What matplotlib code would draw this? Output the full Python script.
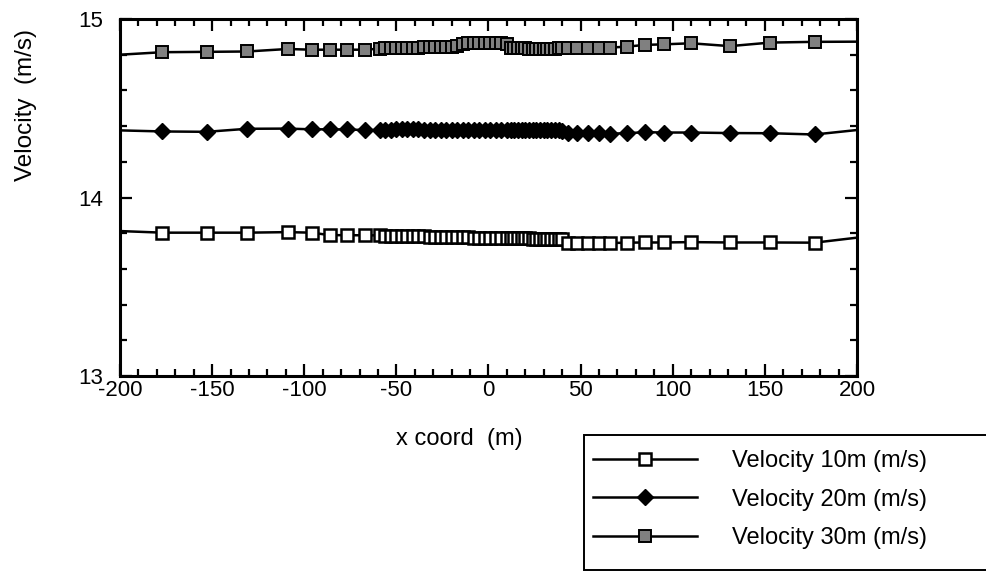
import matplotlib
matplotlib.use('Agg')
import matplotlib.pyplot as plt
from matplotlib.lines import Line2D
from matplotlib.patches import Rectangle
from matplotlib.ticker import MultipleLocator

plt.rcParams['font.family'] = ['Liberation Sans', 'DejaVu Sans']
plt.rcParams['axes.unicode_minus'] = False

# mesh x positions (m)
x_coord = [-200, -177, -153, -131, -109, -96, -86, -77, -67, -59,
           -56, -53, -50, -47, -44, -41, -38, -35, -32, -29, -26,
           -23, -20, -17, -14, -11, -8, -5, -2, 1, 4, 7,
           10, 12, 14, 16, 18, 20, 22, 24, 26, 28, 30, 32, 34, 36, 38, 40,
           43, 48, 54, 60, 66, 75, 85, 95, 110, 131, 153, 177, 200]

vel_10m = [13.812, 13.803, 13.803, 13.803, 13.806, 13.803, 13.789, 13.789, 13.788, 13.788,
           13.786, 13.785, 13.785, 13.784, 13.784, 13.783, 13.783, 13.782, 13.781, 13.781, 13.780,
           13.779, 13.778, 13.778, 13.777, 13.776, 13.775, 13.774, 13.773, 13.773, 13.772, 13.772,
           13.771, 13.771, 13.771, 13.771, 13.771, 13.771, 13.771, 13.770, 13.770, 13.770, 13.770,
           13.770, 13.770, 13.770, 13.770, 13.768,
           13.745, 13.744, 13.744, 13.744, 13.745, 13.747, 13.748, 13.748, 13.750, 13.748,
           13.748, 13.747, 13.775]

vel_20m = [14.376, 14.370, 14.368, 14.385, 14.386, 14.382, 14.382, 14.381, 14.378, 14.378,
           14.380, 14.380, 14.381, 14.381, 14.381, 14.381, 14.381, 14.380, 14.380, 14.380, 14.380,
           14.380, 14.380, 14.380, 14.380, 14.380, 14.379, 14.379, 14.379, 14.379, 14.379, 14.379,
           14.379, 14.379, 14.379, 14.379, 14.379, 14.379, 14.379, 14.379, 14.379, 14.379, 14.379,
           14.379, 14.379, 14.379, 14.378, 14.372,
           14.362, 14.361, 14.361, 14.360, 14.358, 14.360, 14.366, 14.364, 14.364, 14.361,
           14.360, 14.353, 14.378]

vel_30m = [14.800, 14.814, 14.816, 14.818, 14.832, 14.828, 14.828, 14.828, 14.828, 14.834,
           14.836, 14.837, 14.838, 14.838, 14.839, 14.840, 14.840, 14.841, 14.841, 14.842, 14.842,
           14.843, 14.845, 14.850, 14.862, 14.865, 14.866, 14.867, 14.867, 14.866, 14.865, 14.864,
           14.862, 14.840, 14.836, 14.835, 14.835, 14.835, 14.834, 14.834, 14.834, 14.834, 14.834,
           14.834, 14.834, 14.834, 14.835, 14.835,
           14.836, 14.836, 14.837, 14.838, 14.840, 14.845, 14.855, 14.858, 14.864, 14.848,
           14.868, 14.872, 14.873]

labels = ['Velocity 10m (m/s)', 'Velocity 20m (m/s)', 'Velocity 30m (m/s)']
styles = [dict(marker='s', markersize=8, markerfacecolor='white', markeredgecolor='black', markeredgewidth=1.8),
          dict(marker='D', markersize=8.5, markerfacecolor='black', markeredgecolor='black', markeredgewidth=1),
          dict(marker='s', markersize=8.5, markerfacecolor='0.5', markeredgecolor='black', markeredgewidth=1.4)]

W, H = 987, 572
fig = plt.figure(figsize=(W / 100, H / 100), dpi=100)
ax = fig.add_axes([120 / W, 1 - 376 / H, 737 / W, 357 / H])

for vals, st in zip([vel_10m, vel_20m, vel_30m], styles):
    ax.plot(x_coord, vals, '-', color='black', linewidth=1.8)
    # the end points at the domain edges carry no marker
    ax.plot(x_coord[1:-1], vals[1:-1], linestyle='none', **st)

ax.set_xlim(-200, 200)
ax.set_ylim(13, 15)
ax.xaxis.set_major_locator(MultipleLocator(50))
ax.xaxis.set_minor_locator(MultipleLocator(10))
ax.yaxis.set_major_locator(MultipleLocator(1))
ax.yaxis.set_minor_locator(MultipleLocator(0.2))
ax.tick_params(which='both', direction='in', top=True, right=True, width=1.6)
ax.tick_params(which='major', length=8.5)
ax.tick_params(which='minor', length=5)
ax.tick_params(axis='x', labelsize=16, pad=3)
ax.tick_params(axis='y', labelsize=16, pad=12)
for sp in ax.spines.values():
    sp.set_linewidth(2.2)

ax.set_xlabel('x coord  (m)', fontsize=17)
ax.xaxis.set_label_coords(0.461, -0.145)
ax.set_ylabel('Velocity  (m/s)', fontsize=17.5)
ax.yaxis.set_label_coords(-0.112, 0.76)

# legend box drawn by hand, so the entries can sit where the reference has them
fig.patches.append(Rectangle((584 / W, 2 / H), 410 / W, 135 / H, transform=fig.transFigure,
                             facecolor='white', edgecolor='black', linewidth=1.4))
handles = [Line2D([], [], color='black', linewidth=1.8, **st) for st in styles]
fig.legend(handles, labels, loc='upper left', bbox_to_anchor=(593 / W, 1 - 450 / H),
           fontsize=17, frameon=False, borderpad=0, borderaxespad=0,
           labelspacing=0.7, handlelength=4.4, handletextpad=1.5)

fig.savefig('out.png', dpi=100)
